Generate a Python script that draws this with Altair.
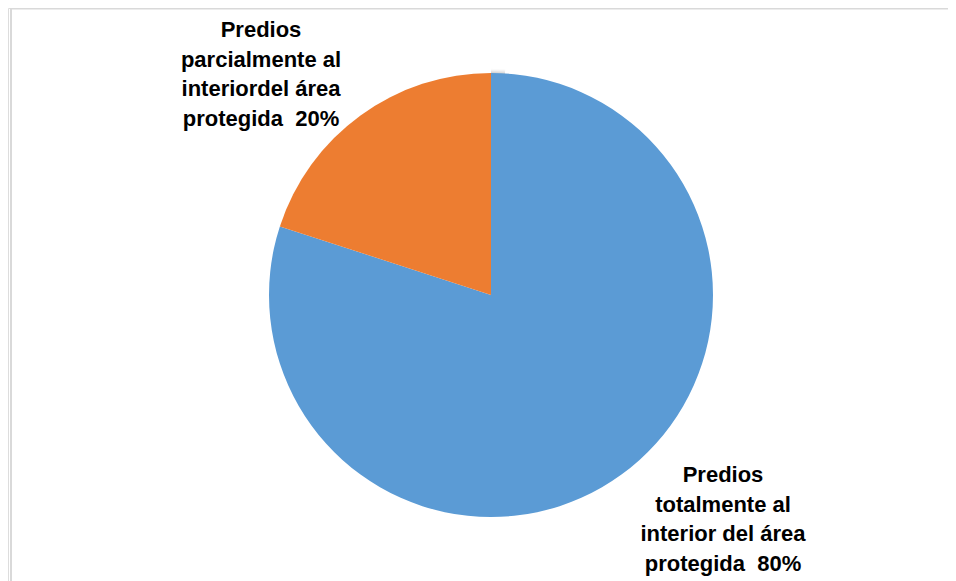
import altair as alt
import pandas as pd

categories = [
    "Predios totalmente al interior del área protegida",
    "Predios parcialmente al interiordel área protegida",
]
values = [80, 20]
colors = ["#5B9BD5", "#ED7D31"]
label_top = ["Predios", "parcialmente al", "interiordel área", "protegida\u00a0\u00a020%"]
label_bottom = ["Predios", "totalmente al", "interior del área", "protegida\u00a0\u00a080%"]

df = pd.DataFrame({"categoria": categories, "valor": values, "orden": [0, 1]})

W, H = 940, 573
CX, CY, R = 483, 287, 222

# soft shadow rings
shadow_layers = []
for i, op in enumerate([0.10, 0.07, 0.05, 0.035, 0.02]):
    shadow_layers.append(
        alt.Chart(pd.DataFrame({"v": [1]}))
        .mark_arc(radius=R + 1 + i * 1.2, color="#000000", opacity=op)
        .encode(theta=alt.Theta("v:Q"), x=alt.value(CX), y=alt.value(CY + 1.5))
    )

pie = (
    alt.Chart(df)
    .mark_arc(radius=R)
    .encode(
        theta=alt.Theta("valor:Q", stack=True),
        order=alt.Order("orden:Q"),
        color=alt.Color(
            "categoria:N",
            scale=alt.Scale(domain=categories, range=colors),
            legend=None,
        ),
        x=alt.value(CX),
        y=alt.value(CY),
    )
)

text_top = (
    alt.Chart(pd.DataFrame({"t": [label_top]}))
    .mark_text(
        font="Liberation Sans", fontWeight="bold", fontSize=22,
        align="center", baseline="alphabetic", lineHeight=29.7, color="#000000",
    )
    .encode(text="t", x=alt.value(253), y=alt.value(29))
)
text_bottom = (
    alt.Chart(pd.DataFrame({"t": [label_bottom]}))
    .mark_text(
        font="Liberation Sans", fontWeight="bold", fontSize=22,
        align="center", baseline="alphabetic", lineHeight=29.5, color="#000000",
    )
    .encode(text="t", x=alt.value(715), y=alt.value(474))
)

border_top = alt.Chart(pd.DataFrame({"a": [0]})).mark_rule(
    color="#d9d9d9", strokeWidth=2
).encode(x=alt.value(2), x2=alt.value(948), y=alt.value(0.5))
border_left = alt.Chart(pd.DataFrame({"a": [0]})).mark_rule(
    color="#d9d9d9", strokeWidth=2
).encode(x=alt.value(3), y=alt.value(0), y2=alt.value(H))

chart = (
    alt.layer(*shadow_layers, pie, text_top, text_bottom, border_top, border_left)
    .properties(width=W, height=H, padding=0, autosize=alt.AutoSizeParams(type="none"))
    .configure_view(stroke=None)
    .configure(background="white")
)

chart.save("out.html", embed_options={"renderer": "svg", "actions": False})
